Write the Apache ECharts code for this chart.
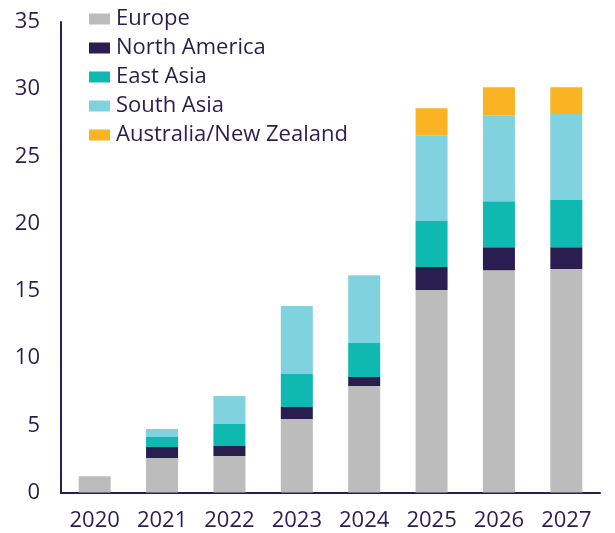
<!DOCTYPE html>
<html>
<head>
<meta charset="utf-8">
<script src="https://cdn.jsdelivr.net/npm/echarts@6/dist/echarts.min.js"></script>
<style>
  html, body { margin: 0; padding: 0; background: #fff; }
  #chart { width: 615px; height: 533px; }
</style>
</head>
<body>
<div id="chart"></div>
<script>
// data
var years = ['2020', '2021', '2022', '2023', '2024', '2025', '2026', '2027'];
var europe = [1.2, 2.56, 2.71, 5.46, 7.92, 15.06, 16.54, 16.62];
var northAmerica = [0, 0.82, 0.75, 0.9, 0.67, 1.71, 1.71, 1.63];
var eastAsia = [0, 0.75, 1.64, 2.45, 2.53, 3.42, 3.42, 3.5];
var southAsia = [0, 0.59, 2.08, 5.06, 5.05, 6.39, 6.4, 6.41];
var ausNz = [0, 0, 0, 0, 0, 2.01, 2.08, 1.99];
var yTicks = { min: 0, max: 35, interval: 5 };

var ink = '#2a1d50';
var font = 'Open Sans';

function stackSeries(name, data, color) {
  return {
    name: name,
    type: 'bar',
    stack: 'total',
    barWidth: 32,
    data: data,
    itemStyle: { color: color },
    emphasis: { disabled: true }
  };
}

var chart = echarts.init(document.getElementById('chart'));
chart.setOption({
  animation: false,
  textStyle: { fontFamily: font },
  grid: { left: 61, right: 15, top: 22, bottom: 40.5 },
  legend: {
    orient: 'vertical',
    left: 89,
    top: 8,
    padding: 0,
    itemWidth: 21,
    itemHeight: 11,
    itemGap: 7,
    icon: 'rect',
    textStyle: { color: ink, fontSize: 22, fontFamily: font, lineHeight: 22, padding: [0, 0, 0, 1] },
    data: ['Europe', 'North America', 'East Asia', 'South Asia', 'Australia/New Zealand']
  },
  xAxis: {
    type: 'category',
    data: years,
    axisLine: { lineStyle: { color: ink, width: 2 } },
    axisTick: { show: false },
    axisLabel: { color: ink, fontSize: 22, margin: 17 }
  },
  yAxis: {
    type: 'value',
    min: yTicks.min,
    max: yTicks.max,
    interval: yTicks.interval,
    axisLine: { show: true, lineStyle: { color: ink, width: 2 } },
    axisTick: { show: false },
    splitLine: { show: false },
    axisLabel: { color: ink, fontSize: 22, margin: 21 }
  },
  series: [
    stackSeries('Europe', europe, '#bbbcbb'),
    stackSeries('North America', northAmerica, '#2a1d50'),
    stackSeries('East Asia', eastAsia, '#0fb8b0'),
    stackSeries('South Asia', southAsia, '#81d2df'),
    stackSeries('Australia/New Zealand', ausNz, '#f9b323')
  ]
});
</script>
</body>
</html>
